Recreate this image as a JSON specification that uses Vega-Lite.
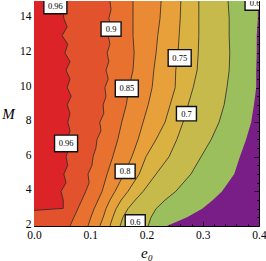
{
"$schema": "https://vega.github.io/schema/vega-lite/v6.json",
"width": 225, "height": 225,
"autosize": {"type": "none"},
"padding": {"left": 34, "top": 1, "right": 7, "bottom": 35},
"background": "white",
"config": {
  "view": {"fill": "#7A1E87", "stroke": null},
  "axis": {"grid": false, "domainColor": "black", "domainWidth": 1, "tickColor": "black", "tickWidth": 0.8, "labelFont": "Liberation Serif", "labelFontSize": 11.5, "labelColor": "black", "titleFont": "Liberation Serif", "titleColor": "black", "labelFlush": false, "labelOverlap": false}
},
"datasets": {
  "c": [
    {"lv":"0.6","M":15,"e":0.398},{"lv":"0.6","M":14,"e":0.398},{"lv":"0.6","M":13,"e":0.396},{"lv":"0.6","M":12,"e":0.396},{"lv":"0.6","M":11,"e":0.395},{"lv":"0.6","M":10,"e":0.395},{"lv":"0.6","M":9,"e":0.391},{"lv":"0.6","M":8,"e":0.386},{"lv":"0.6","M":7,"e":0.377},{"lv":"0.6","M":6,"e":0.366},{"lv":"0.6","M":5,"e":0.356},{"lv":"0.6","M":4,"e":0.334},{"lv":"0.6","M":3.5,"e":0.318},{"lv":"0.6","M":3,"e":0.299},{"lv":"0.6","M":2.5,"e":0.272},{"lv":"0.6","M":2,"e":0.236},
    {"lv":"0.65","M":15,"e":0.345},{"lv":"0.65","M":14,"e":0.347},{"lv":"0.65","M":13,"e":0.347},{"lv":"0.65","M":12,"e":0.348},{"lv":"0.65","M":11,"e":0.347},{"lv":"0.65","M":10,"e":0.343},{"lv":"0.65","M":9,"e":0.338},{"lv":"0.65","M":8,"e":0.329},{"lv":"0.65","M":7,"e":0.315},{"lv":"0.65","M":6,"e":0.297},{"lv":"0.65","M":5,"e":0.279},{"lv":"0.65","M":4,"e":0.252},{"lv":"0.65","M":3.5,"e":0.233},{"lv":"0.65","M":3,"e":0.217},{"lv":"0.65","M":2.5,"e":0.208},{"lv":"0.65","M":2,"e":0.203},
    {"lv":"0.7","M":15,"e":0.293},{"lv":"0.7","M":14,"e":0.293},{"lv":"0.7","M":13,"e":0.293},{"lv":"0.7","M":12,"e":0.292},{"lv":"0.7","M":11,"e":0.290},{"lv":"0.7","M":10,"e":0.283},{"lv":"0.7","M":9,"e":0.274},{"lv":"0.7","M":8,"e":0.265},{"lv":"0.7","M":7,"e":0.254},{"lv":"0.7","M":6,"e":0.240},{"lv":"0.7","M":5,"e":0.217},{"lv":"0.7","M":4,"e":0.194},{"lv":"0.7","M":3.5,"e":0.180},{"lv":"0.7","M":3,"e":0.167},{"lv":"0.7","M":2.5,"e":0.158},{"lv":"0.7","M":2,"e":0.153},
    {"lv":"0.75","M":15,"e":0.261},{"lv":"0.75","M":14,"e":0.260},{"lv":"0.75","M":13,"e":0.258},{"lv":"0.75","M":12,"e":0.256},{"lv":"0.75","M":11,"e":0.252},{"lv":"0.75","M":10,"e":0.251},{"lv":"0.75","M":9,"e":0.242},{"lv":"0.75","M":8,"e":0.233},{"lv":"0.75","M":7,"e":0.217},{"lv":"0.75","M":6,"e":0.199},{"lv":"0.75","M":5,"e":0.187},{"lv":"0.75","M":4,"e":0.167},{"lv":"0.75","M":3.5,"e":0.155},{"lv":"0.75","M":3,"e":0.146},{"lv":"0.75","M":2.5,"e":0.140},{"lv":"0.75","M":2,"e":0.135},
    {"lv":"0.8","M":15,"e":0.226},{"lv":"0.8","M":14,"e":0.224},{"lv":"0.8","M":13,"e":0.220},{"lv":"0.8","M":12,"e":0.217},{"lv":"0.8","M":11,"e":0.213},{"lv":"0.8","M":10,"e":0.210},{"lv":"0.8","M":9,"e":0.203},{"lv":"0.8","M":8,"e":0.194},{"lv":"0.8","M":7,"e":0.185},{"lv":"0.8","M":6,"e":0.174},{"lv":"0.8","M":5,"e":0.160},{"lv":"0.8","M":4,"e":0.144},{"lv":"0.8","M":3.5,"e":0.135},{"lv":"0.8","M":3,"e":0.128},{"lv":"0.8","M":2.5,"e":0.123},{"lv":"0.8","M":2,"e":0.117},
    {"lv":"0.85","M":15,"e":0.176},{"lv":"0.85","M":14,"e":0.176},{"lv":"0.85","M":13,"e":0.176},{"lv":"0.85","M":12,"e":0.178},{"lv":"0.85","M":11,"e":0.176},{"lv":"0.85","M":10,"e":0.169},{"lv":"0.85","M":9,"e":0.164},{"lv":"0.85","M":8,"e":0.156},{"lv":"0.85","M":7,"e":0.149},{"lv":"0.85","M":6,"e":0.140},{"lv":"0.85","M":5,"e":0.130},{"lv":"0.85","M":4,"e":0.121},{"lv":"0.85","M":3.5,"e":0.114},{"lv":"0.85","M":3,"e":0.107},{"lv":"0.85","M":2.5,"e":0.101},{"lv":"0.85","M":2,"e":0.096},
    {"lv":"0.9","M":15,"e":0.135},{"lv":"0.9","M":14.5,"e":0.137},{"lv":"0.9","M":14,"e":0.133},{"lv":"0.9","M":13.5,"e":0.137},{"lv":"0.9","M":13,"e":0.132},{"lv":"0.9","M":12.5,"e":0.135},{"lv":"0.9","M":12,"e":0.130},{"lv":"0.9","M":11.5,"e":0.133},{"lv":"0.9","M":11,"e":0.128},{"lv":"0.9","M":10.5,"e":0.132},{"lv":"0.9","M":10,"e":0.126},{"lv":"0.9","M":9.5,"e":0.128},{"lv":"0.9","M":9,"e":0.123},{"lv":"0.9","M":8.5,"e":0.124},{"lv":"0.9","M":8,"e":0.117},{"lv":"0.9","M":7.5,"e":0.119},{"lv":"0.9","M":7,"e":0.112},{"lv":"0.9","M":6.5,"e":0.110},{"lv":"0.9","M":6,"e":0.105},{"lv":"0.9","M":5.5,"e":0.103},{"lv":"0.9","M":5,"e":0.096},{"lv":"0.9","M":4.5,"e":0.098},{"lv":"0.9","M":4,"e":0.092},{"lv":"0.9","M":3.5,"e":0.085},{"lv":"0.9","M":3,"e":0.078},{"lv":"0.9","M":2.5,"e":0.071},{"lv":"0.9","M":2,"e":0.064},
    {"lv":"0.96","M":15,"e":0.057},{"lv":"0.96","M":14.5,"e":0.052},{"lv":"0.96","M":14,"e":0.053},{"lv":"0.96","M":13.5,"e":0.059},{"lv":"0.96","M":13,"e":0.050},{"lv":"0.96","M":12.5,"e":0.060},{"lv":"0.96","M":12,"e":0.055},{"lv":"0.96","M":11.5,"e":0.064},{"lv":"0.96","M":11,"e":0.057},{"lv":"0.96","M":10.5,"e":0.064},{"lv":"0.96","M":10,"e":0.059},{"lv":"0.96","M":9.5,"e":0.066},{"lv":"0.96","M":9,"e":0.059},{"lv":"0.96","M":8.5,"e":0.064},{"lv":"0.96","M":8,"e":0.060},{"lv":"0.96","M":7.5,"e":0.064},{"lv":"0.96","M":7,"e":0.059},{"lv":"0.96","M":6.5,"e":0.062},{"lv":"0.96","M":6,"e":0.057},{"lv":"0.96","M":5.5,"e":0.060},{"lv":"0.96","M":5,"e":0.053},{"lv":"0.96","M":4.5,"e":0.057},{"lv":"0.96","M":4,"e":0.048},{"lv":"0.96","M":3.5,"e":0.052},{"lv":"0.96","M":3.02,"e":0.052},{"lv":"0.96","M":2.9,"e":0}
  ],
  "lab": [
    {"t":"0.96","e":0.038,"M":14.74},
    {"t":"0.9","e":0.137,"M":13.38},
    {"t":"0.85","e":0.165,"M":9.95},
    {"t":"0.75","e":0.259,"M":11.71},
    {"t":"0.7","e":0.271,"M":8.49},
    {"t":"0.96","e":0.057,"M":6.77},
    {"t":"0.8","e":0.162,"M":5.16},
    {"t":"0.6","e":0.18,"M":2.23},
    {"t":"0.6","e":0.393,"M":14.88}
  ]
},
"layer": [
  {
    "data": {"name": "c"},
    "mark": {"type": "area", "orient": "horizontal"},
    "encoding": {
      "x": {"field": "e", "type": "quantitative", "stack": null, "scale": {"domain": [0, 0.4], "nice": false},
        "axis": {"orient": "bottom", "values": [0, 0.1, 0.2, 0.3, 0.4], "format": ".1f", "tickSize": -5, "labelPadding": 8, "domain": true,
          "title": "e₀", "titleFontStyle": "italic", "titleFontSize": 15, "titleFontWeight": "normal", "titleBaseline": "alphabetic", "titleY": 31, "titleX": 112.5, "titleAnchor": null}},
      "y": {"field": "M", "type": "quantitative", "scale": {"domain": [2, 15], "nice": false, "zero": false},
        "axis": {"orient": "left", "values": [2, 4, 6, 8, 10, 12, 14], "tickSize": -5, "labelPadding": 8, "labelOffset": -1.5, "domain": true,
          "title": "M", "titleAngle": 0, "titleFontStyle": "italic", "titleFontSize": 15, "titleFontWeight": "normal", "titleX": -26, "titleY": 112.5, "titleAlign": "center", "titleBaseline": "middle", "titleAnchor": null}},
      "color": {"field": "lv", "type": "nominal", "legend": null,
        "scale": {"domain": ["0.6", "0.65", "0.7", "0.75", "0.8", "0.85", "0.9", "0.96"],
                  "range": ["#9CBF5E", "#C5BA4B", "#DAB242", "#E8A13A", "#EB8A34", "#E8712F", "#E2522C", "#DC2327"]}}
    }
  },
  {
    "data": {"name": "c"},
    "transform": [{"filter": "datum.lv != '0.6'"}],
    "mark": {"type": "line", "color": "#2a2a2a", "strokeWidth": 0.8},
    "encoding": {
      "x": {"field": "e", "type": "quantitative", "scale": {"domain": [0, 0.4], "nice": false},
        "axis": {"orient": "bottom", "values": [0.02,0.04,0.06,0.08,0.12,0.14,0.16,0.18,0.22,0.24,0.26,0.28,0.32,0.34,0.36,0.38], "tickSize": -2.5, "labels": false, "domain": false, "title": null}},
      "y": {"field": "M", "type": "quantitative", "scale": {"domain": [2, 15], "nice": false, "zero": false},
        "axis": {"orient": "left", "values": [2.5,3,3.5,4.5,5,5.5,6.5,7,7.5,8.5,9,9.5,10.5,11,11.5,12.5,13,13.5,14.5], "tickSize": -2.5, "labels": false, "domain": false, "title": null}},
      "detail": {"field": "lv", "type": "nominal"},
      "order": {"field": "M", "type": "quantitative"}
    }
  },
  {
    "data": {"name": "lab"},
    "mark": {"type": "point", "shape": "M -1 -0.72 H 1 V 0.72 H -1 Z", "filled": true, "fill": "white", "stroke": "#111111", "strokeWidth": 1.4, "opacity": 1, "clip": true},
    "encoding": {
      "x": {"field": "e", "type": "quantitative", "scale": {"domain": [0, 0.4], "nice": false},
        "axis": {"orient": "top", "values": [0, 0.1, 0.2, 0.3, 0.4], "tickSize": -5, "labels": false, "domain": true, "title": null}},
      "y": {"field": "M", "type": "quantitative", "scale": {"domain": [2, 15], "nice": false, "zero": false},
        "axis": {"orient": "right", "values": [2, 4, 6, 8, 10, 12, 14], "tickSize": -5, "labels": false, "domain": true, "title": null}},
      "size": {"condition": {"test": "length(datum.t) > 3", "value": 530}, "value": 400}
    }
  },
  {
    "data": {"name": "lab"},
    "mark": {"type": "text", "font": "Liberation Serif", "fontSize": 8.5, "color": "black", "baseline": "middle", "align": "center", "clip": true},
    "encoding": {
      "x": {"field": "e", "type": "quantitative", "scale": {"domain": [0, 0.4], "nice": false},
        "axis": {"orient": "top", "values": [0.02,0.04,0.06,0.08,0.12,0.14,0.16,0.18,0.22,0.24,0.26,0.28,0.32,0.34,0.36,0.38], "tickSize": -2.5, "labels": false, "domain": false, "title": null}},
      "y": {"field": "M", "type": "quantitative", "scale": {"domain": [2, 15], "nice": false, "zero": false},
        "axis": {"orient": "right", "values": [2.5,3,3.5,4.5,5,5.5,6.5,7,7.5,8.5,9,9.5,10.5,11,11.5,12.5,13,13.5,14.5], "tickSize": -2.5, "labels": false, "domain": false, "title": null}},
      "text": {"field": "t", "type": "nominal"}
    }
  }
],
"resolve": {"axis": {"x": "independent", "y": "independent"}}
}
